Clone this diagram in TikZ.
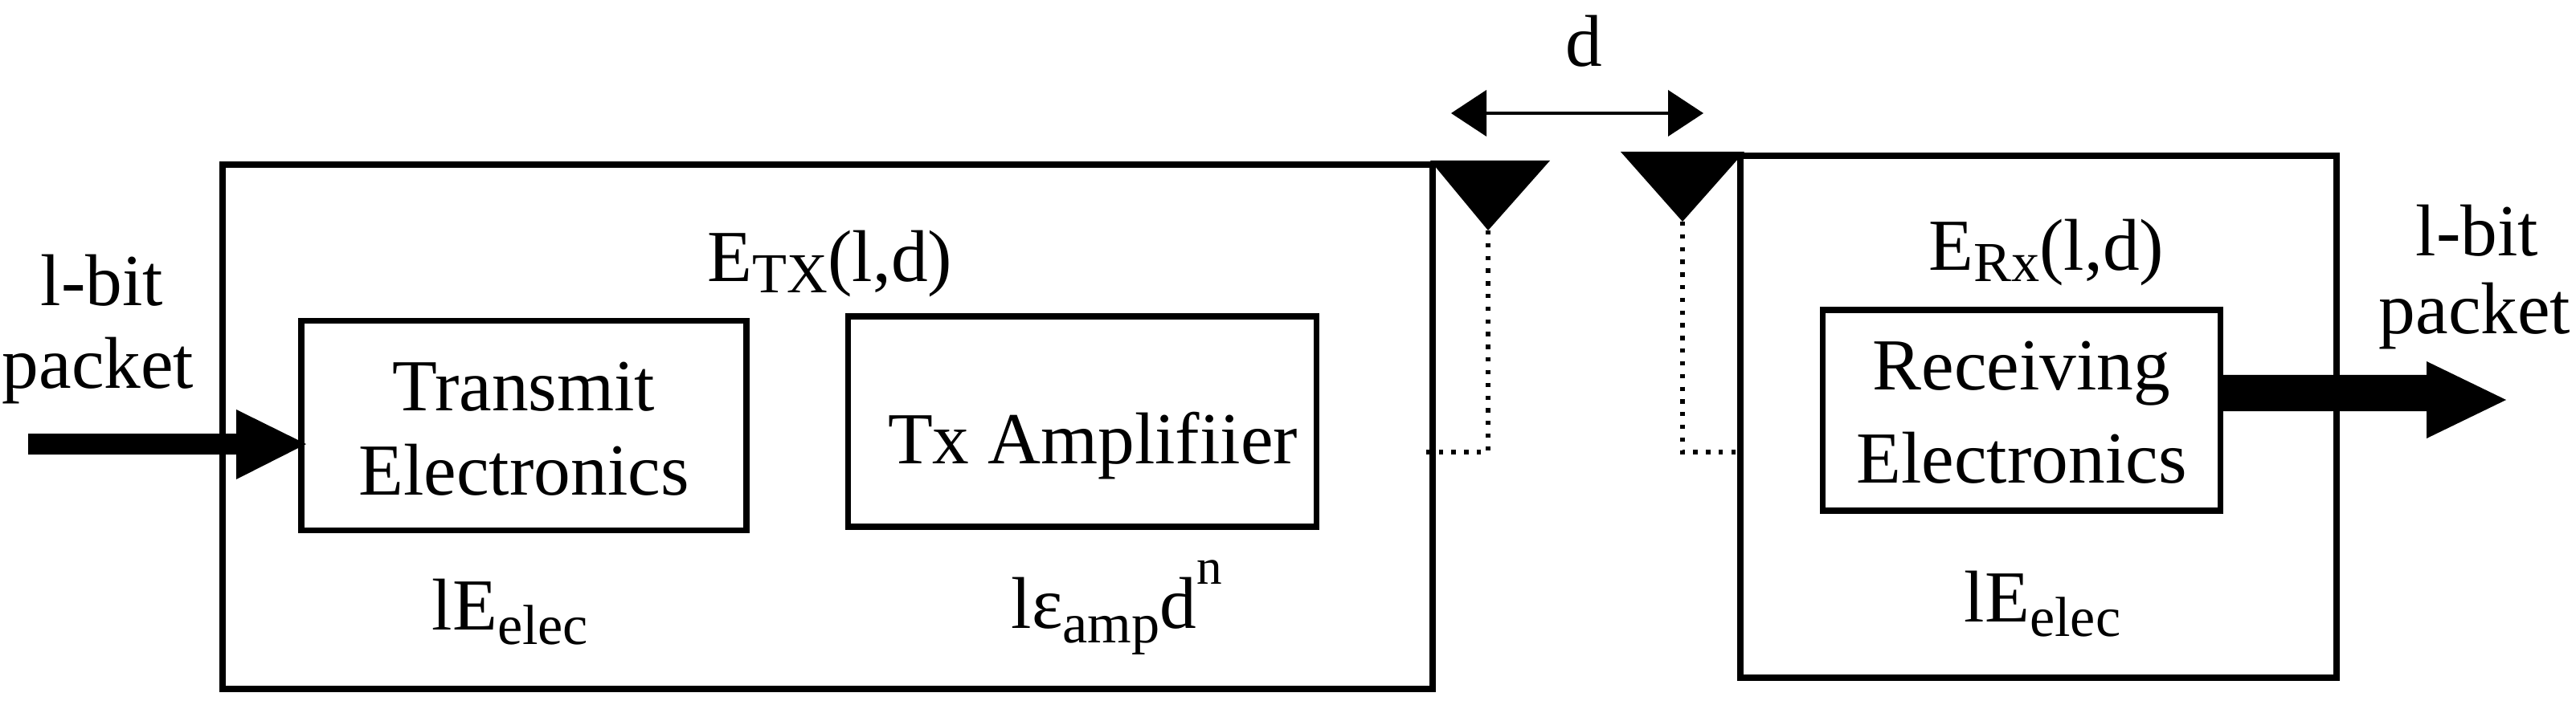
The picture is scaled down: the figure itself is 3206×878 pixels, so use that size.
\documentclass[tikz,border=0pt]{standalone}
\usepackage{fontspec}
\setmainfont{Liberation Serif}
\newfontfamily\tms{Liberation Serif}
\begin{document}
\begin{tikzpicture}[x=0.02cm,y=-0.02cm,
  box/.style={draw,line width=4.5pt},
  txt/.style={font=\tms\fontsize{52}{62}\selectfont,align=center,inner sep=0},
  dot/.style={line width=3pt,dash pattern=on 3pt off 6pt},
  ant/.style={fill=black}]
\useasboundingbox (0,0) rectangle (3206,878);
\draw[box] (277,205) rectangle (1783,858);
\draw[box] (2166,194) rectangle (2908,844);
\node[box,minimum width=554*0.02cm,minimum height=261*0.02cm,inner sep=0] (te) at (652,530) {};
\node[txt] at (652,482) {Transmit};
\node[txt] at (652,585) {Electronics};
\node[box,minimum width=583*0.02cm,minimum height=262*0.02cm,inner sep=0] (ta) at (1347,525) {};
\node[txt] at (1360,555) {Tx Amplifiier};
\node[box,minimum width=495*0.02cm,minimum height=250*0.02cm,inner sep=0] (re) at (2516,511) {};
\node[txt] at (2516,465) {Receiving};
\node[txt] at (2516,570) {Electronics};
\node[txt] at (1033,329) {E\raisebox{-0.15em}{\fontsize{40}{40}\selectfont TX}(l,d)};
\node[txt] at (2547,315) {E\raisebox{-0.15em}{\fontsize{40}{40}\selectfont Rx}(l,d)};
\node[txt] at (635,762) {lE\raisebox{-0.2em}{\fontsize{40}{40}\selectfont elec}};
\node[txt] at (2542,752) {lE\raisebox{-0.2em}{\fontsize{40}{40}\selectfont elec}};
\node[txt] at (1390,757) {lε\raisebox{-0.2em}{\fontsize{40}{40}\selectfont amp}d\raisebox{0.6em}{\fontsize{36}{36}\selectfont n}};
\node[txt] at (127,349) {l-bit};
\node[txt] at (122,462) {packet};
\node[txt] at (3083,287) {l-bit};
\node[txt] at (3080,394) {packet};
\node[txt] (dl) at (1971,51) {d};
\fill (35,540) -- (294,540) -- (294,510) -- (381,553) -- (294,597) -- (294,566) -- (35,566) -- cycle;
\fill (2764,467) -- (3020,467) -- (3020,450) -- (3119,498) -- (3020,546) -- (3020,512) -- (2764,512) -- cycle;
\fill[ant] (1780,200) -- (1929,200) -- (1852,287) -- cycle;
\fill[ant] (2017,189) -- (2171,189) -- (2094,276) -- cycle;
\coordinate (a1) at (1852,287);
\coordinate (a2) at (2094,276);
\draw[dot] (a1) -- (1852,563) -- (1765,563);
\draw[dot] (a2) -- (2094,563) -- (2161,563);
\coordinate (dA) at (1806,141);
\coordinate (dB) at (2120,141);
\draw[line width=2.5pt] (1840,141) -- (2086,141);
\fill (dA) -- (1850,112) -- (1850,170) -- cycle;
\fill (dB) -- (2076,112) -- (2076,170) -- cycle;
\end{tikzpicture}
\end{document}
